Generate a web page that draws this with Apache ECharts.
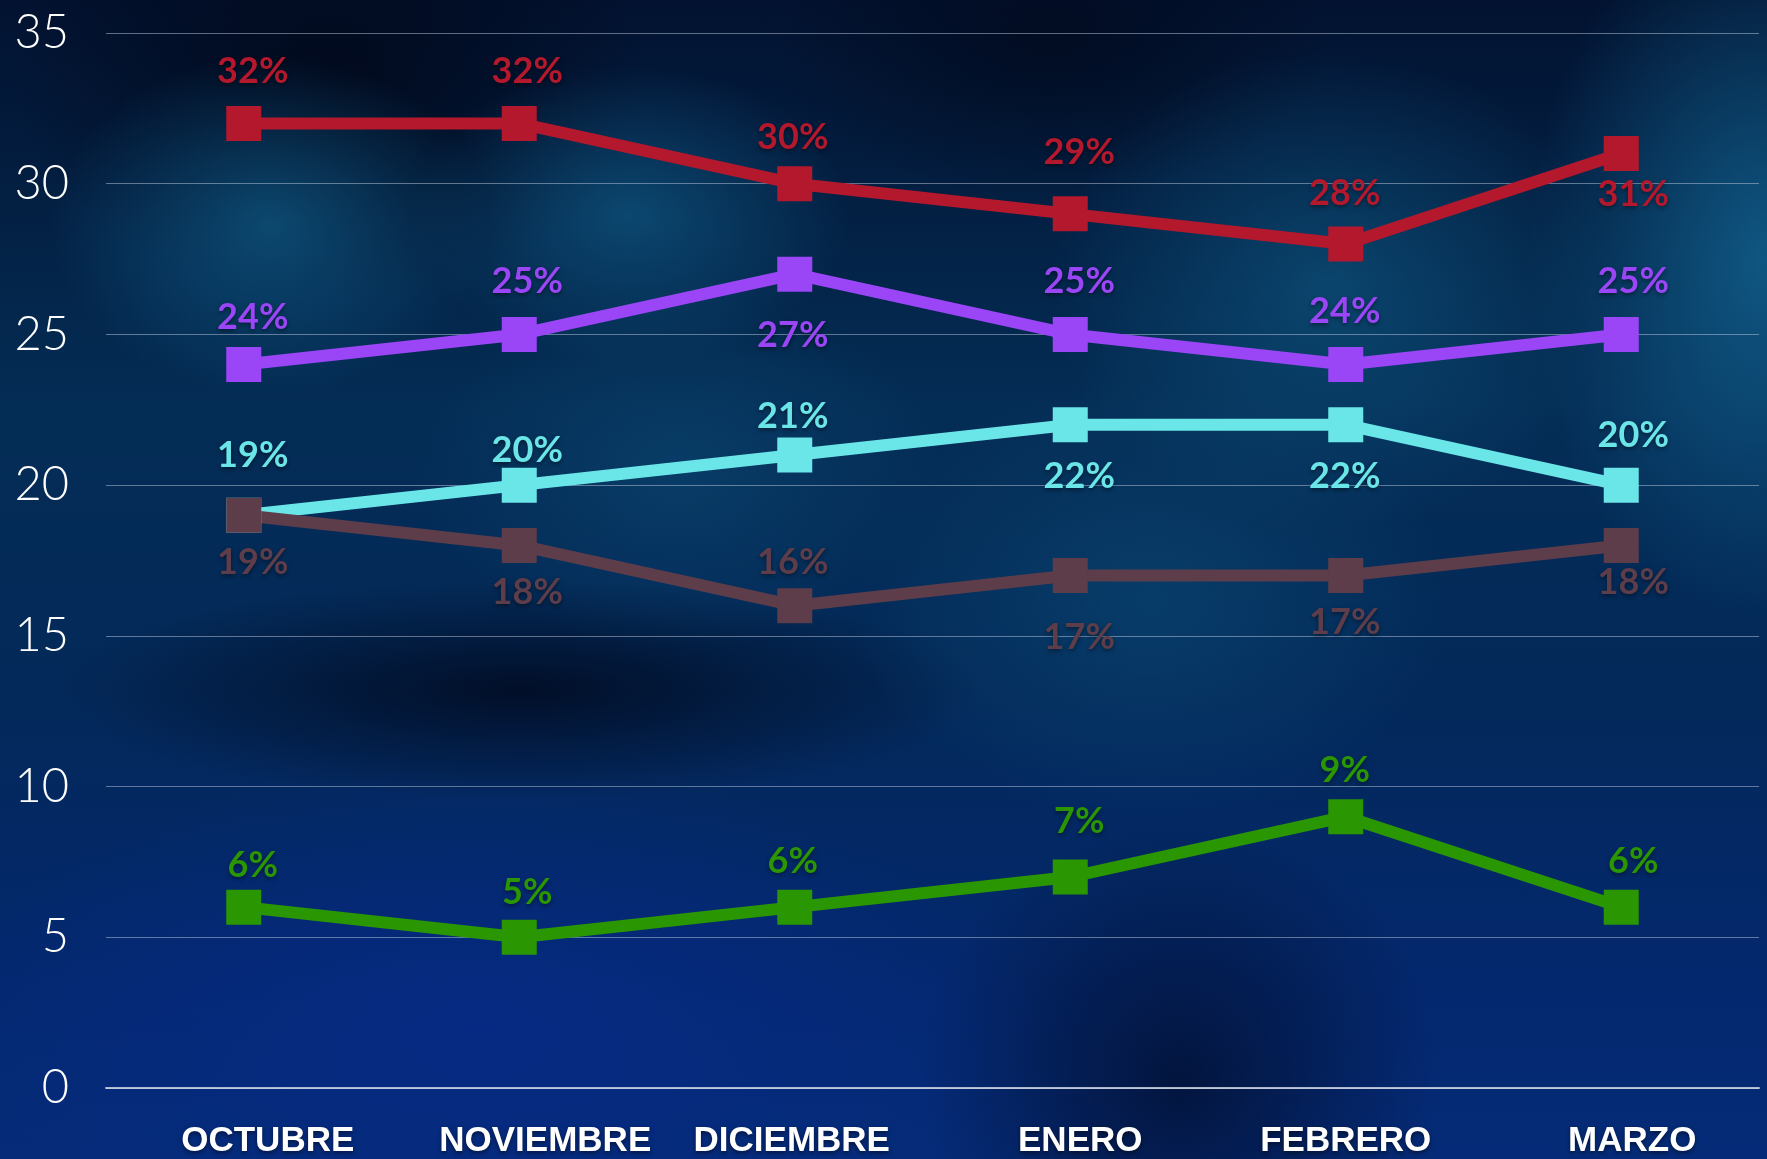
<!DOCTYPE html>
<html>
<head>
<meta charset="utf-8">
<script src="https://cdn.jsdelivr.net/npm/echarts@6/dist/echarts.min.js"></script>
<style>
  html, body { margin: 0; padding: 0; }
  body {
    width: 1767px; height: 1159px; overflow: hidden;
    background:
      radial-gradient(ellipse 220px 170px at 270px 225px, rgba(16,92,135,0.7), rgba(16,92,135,0) 100%),
      radial-gradient(ellipse 220px 150px at 630px 215px, rgba(16,92,135,0.65), rgba(16,92,135,0) 100%),
      radial-gradient(ellipse 280px 240px at 1330px 290px, rgba(14,86,128,0.65), rgba(14,86,128,0) 100%),
      radial-gradient(ellipse 240px 360px at 1767px 260px, rgba(18,100,145,0.8), rgba(18,100,145,0) 100%),
      radial-gradient(ellipse 300px 220px at 1150px 600px, rgba(12,76,118,0.55), rgba(12,76,118,0) 100%),
      radial-gradient(ellipse 260px 180px at 680px 470px, rgba(12,76,118,0.5), rgba(12,76,118,0) 100%),
      radial-gradient(ellipse 460px 110px at 520px 690px, rgba(1,8,28,0.8), rgba(1,8,28,0) 100%),
      radial-gradient(ellipse 320px 230px at 330px 70px, rgba(1,8,26,0.9), rgba(1,8,26,0) 100%),
      radial-gradient(ellipse 280px 160px at 1050px 40px, rgba(1,8,26,0.7), rgba(1,8,26,0) 100%),
      radial-gradient(ellipse 560px 260px at 480px 1030px, rgba(6,42,135,0.8), rgba(6,42,135,0) 100%),
      radial-gradient(ellipse 260px 260px at 1180px 1080px, rgba(2,14,44,0.75), rgba(2,14,44,0) 100%),
      linear-gradient(180deg, #021230 0%, #042d55 35%, #03295a 60%, #04286e 85%, #052b78 100%);
  }
  #main { width: 1767px; height: 1159px; }
</style>
</head>
<body>
<div id="main"></div>
<script>
var months = ['OCTUBRE', 'NOVIEMBRE', 'DICIEMBRE', 'ENERO', 'FEBRERO', 'MARZO'];

var redValues = [32, 32, 30, 29, 28, 31];
var purpleValues = [24, 25, 27, 25, 24, 25];
var cyanValues = [19, 20, 21, 22, 22, 20];
var brownValues = [19, 18, 16, 17, 17, 18];
var greenValues = [6, 5, 6, 7, 9, 6];

// month labels in the original are not centred on their ticks (px shift)
var monthShift = [24, 26, -3, 10, 0, 11];

// where each percent label sits relative to its marker (px)
var labelDx = [9, 8, -2, 9, -1, 12];
var redDy = [-52, -52, -46, -61, -51, 41];
var purpleDy = [-47, -53, 61, -53, -53, -53];
var cyanDy = [-60, -35, -39, 52, 52, -50];
var brownDy = [47, 47, -43, 62, 47, 37];
var greenDy = [-42, -45, -46, -56, -46, -46];

var dom = document.getElementById('main');
var myChart = echarts.init(dom, null, { renderer: 'canvas' });

function makeSeries(name, values, color, dys) {
    return {
        name: name,
        type: 'line',
        symbol: 'rect',
        symbolSize: 35,
        lineStyle: { color: color, width: 12 },
        itemStyle: { color: color },
        animation: false,
        data: values.map(function (v, i) {
            return {
                value: v,
                label: { offset: [labelDx[i], dys[i]] }
            };
        }),
        label: {
            show: true,
            position: 'inside',
            color: color,
            fontFamily: 'Lato',
            fontWeight: 'bold',
            fontSize: 36,
            textShadowColor: 'rgba(0,0,0,0.45)',
            textShadowBlur: 4,
            textShadowOffsetY: 2,
            formatter: '{c}%'
        }
    };
}

var monthData = months.map(function (m, i) {
    var s = monthShift[i];
    return {
        value: m,
        textStyle: { padding: s >= 0 ? [0, 0, 0, 2 * s] : [0, -2 * s, 0, 0] }
    };
});

var option = {
    backgroundColor: 'transparent',
    grid: { left: 106, right: 8, top: 33, bottom: 68, containLabel: false },
    xAxis: {
        type: 'category',
        data: monthData,
        boundaryGap: true,
        axisTick: { show: false },
        axisLine: { show: true, lineStyle: { color: 'rgba(215,222,235,0.8)', width: 2 } },
        axisLabel: {
            color: '#ffffff',
            fontFamily: 'Liberation Sans',
            fontWeight: 'bold',
            fontSize: 35,
            margin: 36,
            interval: 0,
            textShadowColor: 'rgba(0,0,0,0.5)',
            textShadowBlur: 4,
            textShadowOffsetY: 2
        }
    },
    yAxis: {
        type: 'value',
        min: 0,
        max: 35,
        interval: 5,
        axisLine: { show: false },
        axisTick: { show: false },
        splitLine: { lineStyle: { color: 'rgba(190,200,220,0.5)', width: 1 } },
        axisLabel: {
            color: '#ffffff',
            fontFamily: 'Lato',
            fontWeight: 300,
            fontSize: 47,
            margin: 37
        }
    },
    series: [
        makeSeries('red', redValues, '#b3182d', redDy),
        makeSeries('purple', purpleValues, '#9a46f7', purpleDy),
        makeSeries('cyan', cyanValues, '#6be6e8', cyanDy),
        makeSeries('brown', brownValues, '#5e3d4a', brownDy),
        makeSeries('green', greenValues, '#2a9602', greenDy)
    ]
};

myChart.setOption(option);
window.addEventListener('resize', myChart.resize);
</script>
</body>
</html>
